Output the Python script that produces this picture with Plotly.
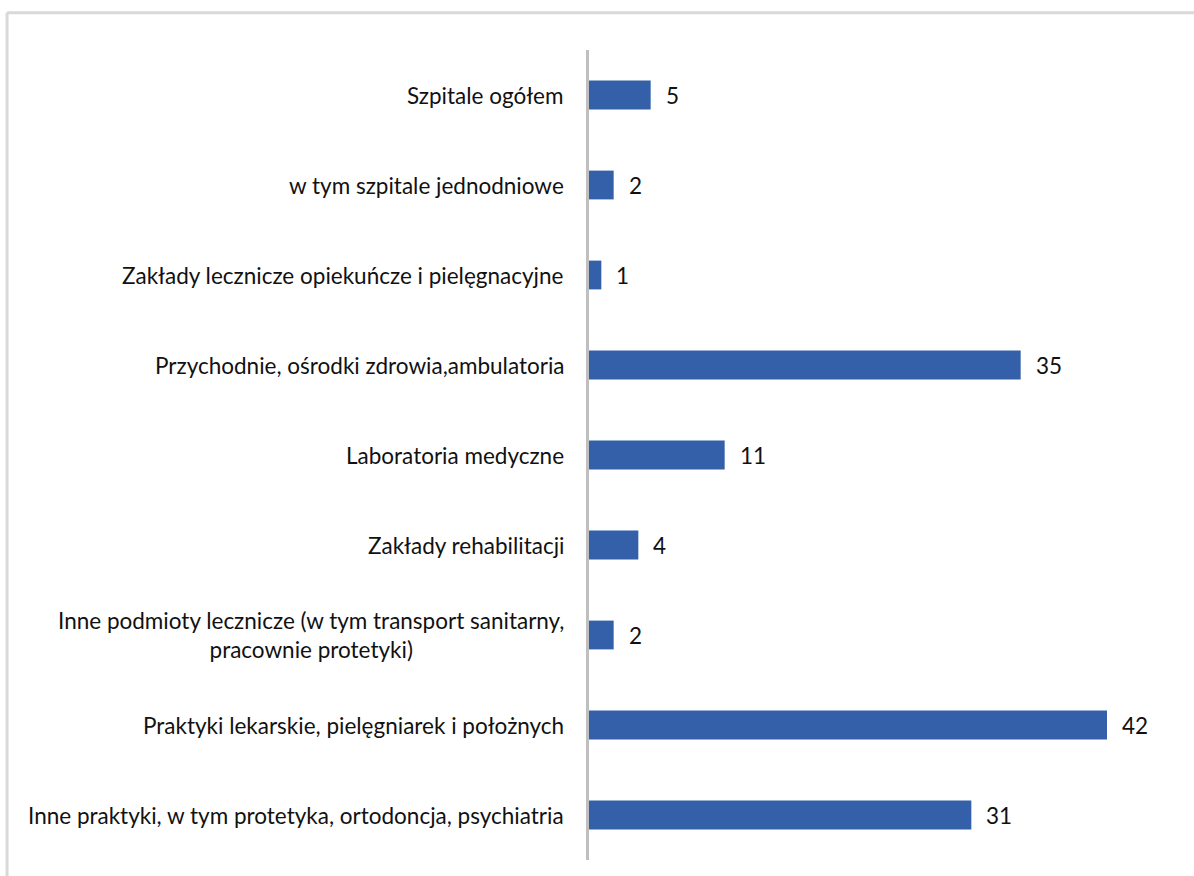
import plotly.graph_objects as go

categories = [
    "Szpitale ogółem",
    "w tym szpitale jednodniowe",
    "Zakłady lecznicze opiekuńcze i pielęgnacyjne",
    "Przychodnie, ośrodki zdrowia,ambulatoria",
    "Laboratoria medyczne",
    "Zakłady rehabilitacji",
    "Inne podmioty lecznicze (w tym transport sanitarny,<br>pracownie protetyki)",
    "Praktyki lekarskie, pielęgniarek i położnych",
    "Inne praktyki, w tym protetyka, ortodoncja, psychiatria",
]
values = [5, 2, 1, 35, 11, 4, 2, 42, 31]

FONT = "Lato"
FS = 22.5
BAR_COLOR = "#3360a9"

fig = go.Figure(go.Bar(
    x=values, y=categories, orientation="h",
    marker=dict(color=BAR_COLOR, line=dict(width=0)),
    width=0.32, hoverinfo="x+y",
))

# category labels as annotations so the two-line one is centred
for cat in categories:
    fig.add_annotation(x=0, xref="paper", y=cat, yref="y", text=cat,
                       xanchor="right", xshift=-23, align="center",
                       showarrow=False, font=dict(family=FONT, size=FS, color="#111111"))

# value labels to the right of bars
for cat, v in zip(categories, values):
    fig.add_annotation(x=v, y=cat, text=str(v), xanchor="left", xshift=13,
                       showarrow=False, font=dict(family=FONT, size=FS, color="#111111"))

# light frame (top and left edge)
fig.add_shape(type="line", xref="paper", yref="paper", x0=-0.983, x1=1.03, y0=1.046, y1=1.046,
              line=dict(color="#d9d9d9", width=3))
fig.add_shape(type="line", xref="paper", yref="paper", x0=-0.983, x1=-0.983, y0=1.046, y1=-0.03,
              line=dict(color="#d9d9d9", width=3))

fig.update_layout(
    width=1194, height=876,
    margin=dict(l=589, r=13, t=50, b=16),
    paper_bgcolor="white", plot_bgcolor="white",
    showlegend=False,
    font=dict(family=FONT, size=FS, color="#111111"),
    xaxis=dict(range=[0, 48], visible=False, showgrid=False, zeroline=False),
    yaxis=dict(categoryorder="array", categoryarray=categories, range=[8.5, -0.5],
               showticklabels=False, showgrid=False, zeroline=False, ticks="",
               showline=True, linecolor="#bfbfbf", linewidth=3),
)

fig.write_html("out.html", config={"displayModeBar": False},
               post_script="document.body.style.margin='0';")
